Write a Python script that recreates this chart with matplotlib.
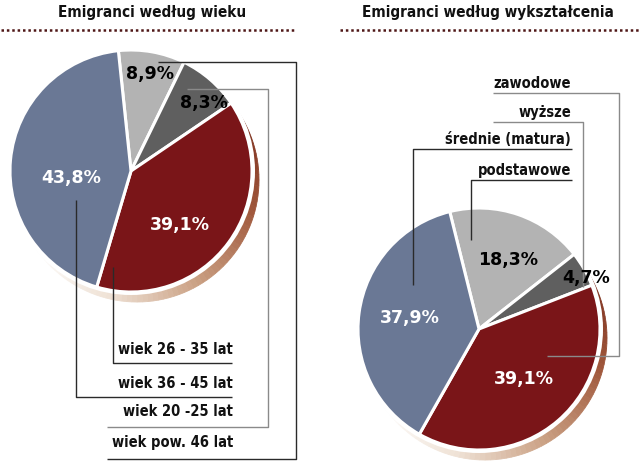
import numpy as np
import matplotlib.pyplot as plt
from matplotlib.patches import Wedge, Circle
from matplotlib.colors import LinearSegmentedColormap

# --- data ---
age_title = 'Emigranci według wieku'
age_labels = ['wiek pow. 46 lat', 'wiek 20 -25 lat', 'wiek 26 - 35 lat', 'wiek 36 - 45 lat']
age_values = [8.9, 8.3, 39.1, 43.8]

edu_title = 'Emigranci według wykształcenia'
edu_labels = ['podstawowe', 'wyższe', 'zawodowe', 'średnie (matura)']
edu_values = [18.3, 4.7, 39.1, 37.9]

slice_colors = ['#b3b3b3', '#5f5f5f', '#7a1518', '#6a7895']
pct_colors = ['black', 'black', 'white', 'white']

# --- layout (pixel coords, y down) ---
W, H = 640, 466
DARK_LINE = '#2a2a2a'
GRAY_LINE = '#8a8a8a'

shadow_cmap = LinearSegmentedColormap.from_list(
    'shadow', ['#5a1810', '#7c2f1e', '#a0583c', '#caa083', '#efe2d6', '#ffffff'])


def py(y):
    return H - y


def fmt(v):
    return f'{v:.1f}'.replace('.', ',') + '%'


def draw_pie(ax, values, center, radius, startangle, pct_pos):
    cx, cy = center[0], py(center[1])

    # brown gradient shadow, offset down-right
    sx, sy = cx + 6, cy - 9
    angs = np.linspace(75, -150, 91)
    for i in range(len(angs) - 1):
        c = shadow_cmap(i / (len(angs) - 2))
        ax.add_patch(Wedge((sx, sy), radius + 1, angs[i + 1], angs[i],
                           facecolor=c, edgecolor=c, lw=0.6, zorder=1))
    ax.add_patch(Circle((cx, cy), radius + 3, facecolor='white', lw=0, zorder=2))

    wedges, _ = ax.pie(values, colors=slice_colors, startangle=startangle,
                       counterclock=False, center=(cx, cy), radius=radius,
                       wedgeprops=dict(edgecolor='white', linewidth=2.2, zorder=3))

    for w, v, col, (rf, da) in zip(wedges, values, pct_colors, pct_pos):
        mid = np.deg2rad((w.theta1 + w.theta2) / 2 + da)
        ax.text(cx + rf * radius * np.cos(mid), cy + rf * radius * np.sin(mid), fmt(v),
                ha='center', va='center', color=col, fontsize=12.5, fontweight='bold',
                family='DejaVu Sans', zorder=6)


def draw_leaders(ax, labels, leaders, text_x):
    for lab, (pts, ty, col) in zip(labels, leaders):
        xs = [p[0] for p in pts]
        ys = [py(p[1]) for p in pts]
        ax.plot(xs, ys, color=col, lw=1.0, zorder=5, solid_capstyle='butt')
        ax.text(text_x, py(ty), lab, ha='right', va='center', fontsize=10.5,
                fontweight='bold', family='DejaVu Sans', fontstretch='condensed',
                color='#111111', zorder=6)


def draw_title(ax, text, x, x0, x1):
    ax.text(x, py(13), text, ha='center', va='center', fontsize=11,
            fontweight='bold', family='DejaVu Sans', fontstretch='condensed',
            color='#111111')
    ax.plot([x0, x1], [py(30), py(30)], color='#4e1616', lw=1.8,
            ls=(0, (1.0, 1.15)), dash_capstyle='butt')


fig = plt.figure(figsize=(6.4, 4.66), dpi=100)
ax = fig.add_axes([0, 0, 1, 1])

# left chart: age
draw_pie(ax, age_values, (131, 171), 121, 96,
         [(0.82, -1), (0.82, -6), (0.6, -12), (0.5, 12)])
age_leaders = [
    ([(158, 62), (296, 62), (296, 459), (107, 459)], 442, DARK_LINE),
    ([(187, 89), (268, 89), (268, 427), (107, 427)], 412, GRAY_LINE),
    ([(113, 267), (113, 363), (232, 363)], 350, DARK_LINE),
    ([(76, 200), (76, 397), (232, 397)], 383, DARK_LINE),
]
draw_leaders(ax, age_labels, age_leaders, 233)
draw_title(ax, age_title, 152, 1, 296)

# right chart: education
draw_pie(ax, edu_values, (479, 329), 121, 104,
         [(0.62, -4), (0.98, -4), (0.55, 1), (0.58, -1)])
edu_leaders = [
    ([(471, 240), (471, 180), (572, 180)], 170, DARK_LINE),
    ([(583, 287), (583, 122), (493, 122)], 112, GRAY_LINE),
    ([(547, 356), (619, 356), (619, 93), (493, 93)], 84, GRAY_LINE),
    ([(413, 285), (413, 149), (572, 149)], 140, DARK_LINE),
]
draw_leaders(ax, edu_labels, edu_leaders, 571)
draw_title(ax, edu_title, 488, 340, 640)

ax.set_xlim(0, W)
ax.set_ylim(0, H)
ax.set_aspect('auto')
ax.axis('off')

fig.savefig('out.png', dpi=100, facecolor='white')
